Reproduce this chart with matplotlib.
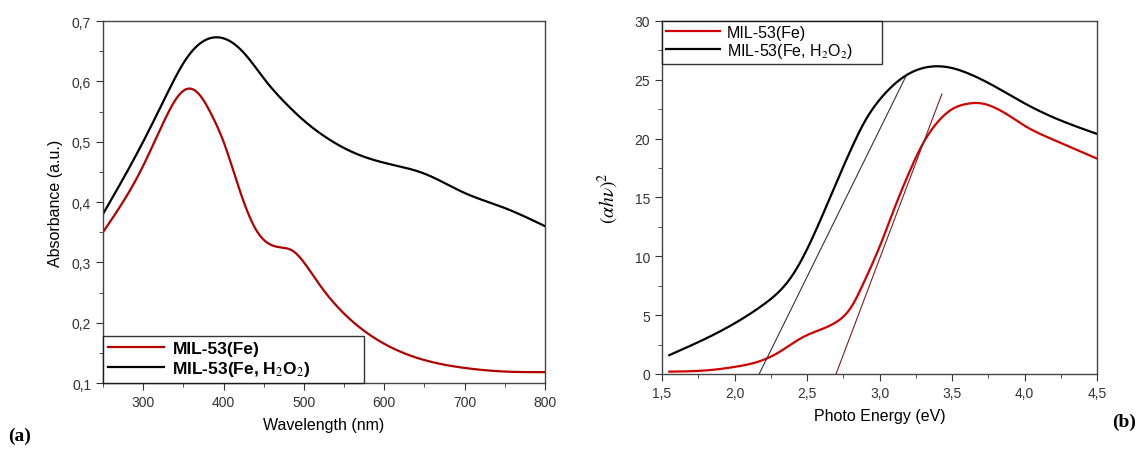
import matplotlib
matplotlib.use("Agg")
import matplotlib.pyplot as plt
from matplotlib.ticker import MultipleLocator, FuncFormatter
import numpy as np

plt.rcParams['font.family'] = ['Liberation Sans', 'DejaVu Sans']
plt.rcParams['mathtext.fontset'] = 'stix'

# (a) UV-vis absorbance
wl_fe = [250, 300, 330, 345, 358, 370, 385, 400, 420, 440, 455, 470, 485,
         500, 520, 550, 600, 650, 700, 750, 800]
abs_fe = [0.35, 0.46, 0.545, 0.578, 0.588, 0.578, 0.545, 0.50, 0.42, 0.355, 0.332,
          0.325, 0.32, 0.30, 0.262, 0.215, 0.165, 0.138, 0.125, 0.119, 0.118]
wl_h2o2 = [250, 300, 330, 350, 370, 390, 410, 430, 450, 480, 500, 530, 560, 600,
           650, 700, 750, 800]
abs_h2o2 = [0.38, 0.50, 0.58, 0.63, 0.662, 0.673, 0.665, 0.64, 0.605, 0.56, 0.535,
            0.505, 0.483, 0.465, 0.447, 0.415, 0.39, 0.36]

# (b) Tauc plot
e_fe = [1.55, 1.8, 2.0, 2.2, 2.3, 2.4, 2.5, 2.6, 2.7, 2.8, 2.9, 3.0, 3.1, 3.2,
        3.3, 3.4, 3.5, 3.6, 3.7, 3.8, 3.9, 4.0, 4.2, 4.5]
tauc_fe = [0.2, 0.3, 0.6, 1.2, 1.8, 2.6, 3.3, 3.8, 4.4, 5.6, 8.0, 10.8, 14.0, 17.0,
           19.6, 21.4, 22.5, 22.95, 23.0, 22.6, 21.9, 21.1, 19.9, 18.3]
e_h2o2 = [1.55, 1.8, 2.0, 2.2, 2.4, 2.5, 2.6, 2.7, 2.8, 2.9, 3.0, 3.1, 3.2, 3.3,
          3.4, 3.5, 3.6, 3.8, 4.0, 4.2, 4.5]
tauc_h2o2 = [1.6, 3.0, 4.3, 5.9, 8.4, 10.6, 13.3, 16.2, 19.0, 21.5, 23.3, 24.6,
             25.5, 26.0, 26.15, 26.0, 25.6, 24.4, 23.0, 21.8, 20.4]

# linear fits (band gap extrapolation)
fit_h2o2_x = [2.17, 3.19]
fit_h2o2_y = [0, 25.5]
fit_fe_x = [2.70, 3.43]
fit_fe_y = [0, 23.8]


def smooth(x, y, n=400):
    # natural cubic spline through the read-off points
    x = np.asarray(x, float)
    y = np.asarray(y, float)
    k = len(x)
    h = np.diff(x)
    A = np.zeros((k, k))
    b = np.zeros(k)
    A[0, 0] = A[-1, -1] = 1
    for i in range(1, k - 1):
        A[i, i - 1] = h[i - 1]
        A[i, i] = 2 * (h[i - 1] + h[i])
        A[i, i + 1] = h[i]
        b[i] = 6 * ((y[i + 1] - y[i]) / h[i] - (y[i] - y[i - 1]) / h[i - 1])
    M = np.linalg.solve(A, b)
    xs = np.linspace(x[0], x[-1], n)
    idx = np.clip(np.searchsorted(x, xs) - 1, 0, k - 2)
    x0, x1, hh = x[idx], x[idx + 1], h[idx]
    ys = (M[idx] * (x1 - xs)**3 / (6 * hh) + M[idx + 1] * (xs - x0)**3 / (6 * hh)
          + (y[idx] / hh - M[idx] * hh / 6) * (x1 - xs)
          + (y[idx + 1] / hh - M[idx + 1] * hh / 6) * (xs - x0))
    return xs, ys


comma = FuncFormatter(lambda v, p: f"{v:.1f}".replace('.', ','))
comma0 = FuncFormatter(lambda v, p: f"{v:.0f}")

fig = plt.figure(figsize=(11.43, 4.52), dpi=100)
ax1 = fig.add_axes([0.0901, 0.1504, 0.3867, 0.8009])
ax2 = fig.add_axes([0.5792, 0.1704, 0.3806, 0.7810])

# ---- (a)
x, y = smooth(wl_fe, abs_fe)
ax1.plot(x, y, color='#b00000', lw=1.6, label='MIL-53(Fe)')
x, y = smooth(wl_h2o2, abs_h2o2)
ax1.plot(x, y, color='black', lw=1.6, label='MIL-53(Fe, H$_2$O$_2$)')
ax1.set_xlim(250, 800)
ax1.set_ylim(0.1, 0.7)
ax1.xaxis.set_major_locator(MultipleLocator(100))
ax1.xaxis.set_minor_locator(MultipleLocator(50))
ax1.yaxis.set_major_locator(MultipleLocator(0.1))
ax1.yaxis.set_minor_locator(MultipleLocator(0.05))
ax1.yaxis.set_major_formatter(comma)
ax1.set_xlabel('Wavelength (nm)', fontsize=11.5, labelpad=6)
ax1.set_ylabel('Absorbance (a.u.)', fontsize=11.5, labelpad=6)
leg1 = ax1.legend(loc='lower left', bbox_to_anchor=(0, 0, 0.59, 0.1),
                  mode='expand', borderaxespad=0,
                  frameon=True, fancybox=False, edgecolor='black',
                  prop={'weight': 'bold', 'size': 12.5}, handlelength=3.2,
                  labelspacing=0.15, borderpad=0.3, handletextpad=0.5)
leg1.get_frame().set_linewidth(1.0)

# ---- (b)
x, y = smooth(e_fe, tauc_fe)
ax2.plot(x, y, color='#d00000', lw=1.6, label='MIL-53(Fe)')
x, y = smooth(e_h2o2, tauc_h2o2)
ax2.plot(x, y, color='black', lw=1.6, label='MIL-53(Fe, H$_2$O$_2$)')
ax2.plot(fit_h2o2_x, fit_h2o2_y, color='#333333', lw=0.8)
ax2.plot(fit_fe_x, fit_fe_y, color='#7a2020', lw=0.8)
ax2.set_xlim(1.5, 4.5)
ax2.set_ylim(0, 30)
ax2.xaxis.set_major_locator(MultipleLocator(0.5))
ax2.xaxis.set_minor_locator(MultipleLocator(0.25))
ax2.yaxis.set_major_locator(MultipleLocator(5))
ax2.yaxis.set_minor_locator(MultipleLocator(2.5))
ax2.xaxis.set_major_formatter(comma)
ax2.yaxis.set_major_formatter(comma0)
ax2.set_xlabel('Photo Energy (eV)', fontsize=11.5, labelpad=6)
ax2.set_ylabel(r'$(\alpha h\nu)^2$', fontsize=14, labelpad=10)
leg2 = ax2.legend(loc='upper left', bbox_to_anchor=(0, 0.9, 0.506, 0.1),
                  mode='expand', borderaxespad=0,
                  frameon=True, fancybox=False, edgecolor='black',
                  prop={'size': 11.5}, handlelength=3.4, labelspacing=0.05,
                  borderpad=0.25, handletextpad=0.4)
leg2.get_frame().set_linewidth(1.0)

for ax in (ax1, ax2):
    for s in ax.spines.values():
        s.set_color('#444444')
        s.set_linewidth(1.0)
    ax.tick_params(which='both', direction='out', top=False, right=False,
                   labelsize=10, colors='#333333')
    ax.tick_params(which='major', length=5)
    ax.tick_params(which='minor', length=3)

fig.text(0.007, 0.025, '(a)', fontsize=14, fontweight='bold',
         family='Liberation Serif')
fig.text(0.973, 0.055, '(b)', fontsize=14, fontweight='bold',
         family='Liberation Serif')

fig.savefig('out.png', dpi=100)
